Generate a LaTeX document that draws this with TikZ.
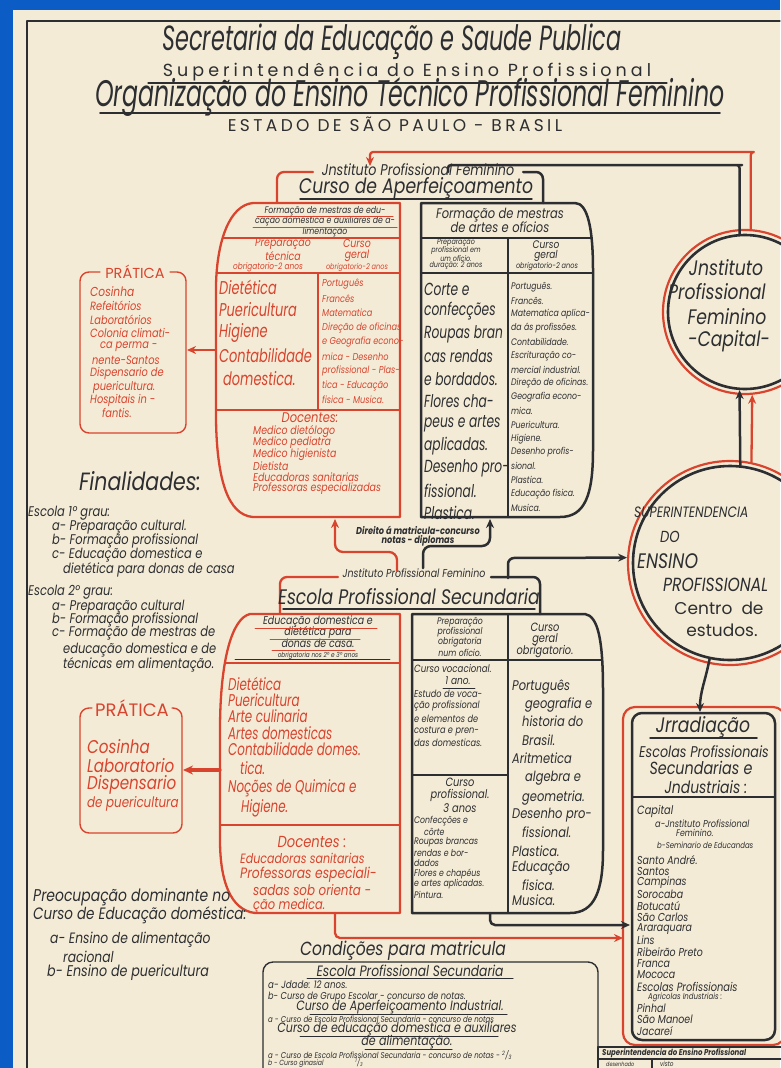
\documentclass[tikz,border=0pt]{standalone}
\usepackage{fontspec}
\setmainfont{Poppins}[FakeStretch=0.82]
\newfontfamily\tallf{Poppins}[FakeStretch=0.64]
\newfontfamily\midf{Poppins}[FakeStretch=0.70]
\newfontfamily\widef{Poppins}
\newfontfamily\spacef{Poppins}[LetterSpace=20]
\newfontfamily\spaceg{Poppins}[LetterSpace=23]
\usetikzlibrary{arrows.meta}
\definecolor{paper}{HTML}{F4EBD6}
\definecolor{rd}{HTML}{D8442E}
\definecolor{dk}{HTML}{2C2E31}
\definecolor{bl}{HTML}{0B5DC5}
\newcommand\fsz[1]{\fontsize{#1}{#1}\selectfont\itshape}
\newcommand\stack[6]{\foreach \s [count=\i from 0] in {#6}{\node[#4] (#5\i) at (#1,{#2+\i*(#3)}) {\s};}}
\begin{document}
\begin{tikzpicture}[x=1pt,y=-1pt,line join=round,line cap=round,
  every node/.append style={text=dk},
  lbl/.style={inner sep=0pt,anchor=west},
  ctr/.style={inner sep=0pt,anchor=center},
  rline/.style={draw=rd,line width=2.3pt},
  dline/.style={draw=dk,line width=2.5pt},
  rthin/.style={draw=rd,line width=1.4pt},
  dthin/.style={draw=dk,line width=1.4pt},
  rarr/.style={rline,-{Stealth[length=9pt,width=8pt]}},
  darr/.style={dline,-{Stealth[length=9pt,width=8pt]}}]
\fill[bl] (0,0) rectangle (780,1068);
\fill[paper] (13,10) rectangle (780,1068);
\useasboundingbox (0,0) rectangle (780,1068);
\draw[dk,line width=1.2pt] (27,1068) -- (27,21) -- (780,21);

% ---------- header ----------
\node[ctr,font=\tallf\fsz{35}] (h1) at (392,42) {Secretaria da Educação e Saude Publica};
\node[ctr,font=\spaceg\fontsize{17.5}{17.5}\selectfont] (h2) at (407,72) {Superintendência do Ensino Profissional};
\draw[dk,line width=1.3pt] (148,83) -- (667,83);
\node[ctr,font=\tallf\fsz{37}] (h3) at (410,97) {Organização do Ensino Técnico Profissional Feminino};
\draw[dk,line width=1.6pt] (100,113) -- (720,113);
\node[ctr,font=\spacef\fontsize{17}{17}\selectfont] (h4) at (395,124) {ESTADO DE SÃO PAULO - BRASIL};

% ---------- circles ----------
\node[circle,draw=rd,line width=2.2pt,minimum size=164pt,inner sep=0pt] (ipfO) at (745,312) {};
\node[circle,draw=dk,line width=2.6pt,minimum size=154pt,inner sep=0pt] (ipfI) at (745,312) {};
\node[circle,draw=rd,line width=2.2pt,minimum size=204pt,inner sep=0pt] (supO) at (730,563) {};
\node[circle,draw=dk,line width=2.6pt,minimum size=194pt,inner sep=0pt] (supI) at (730,563) {};
\node[ctr,font=\fsz{21}] (c1) at (726,268) {Jnstituto};
\node[lbl,font=\fsz{21}] (c2) at (668,292) {Profissional};
\node[ctr,font=\fsz{21}] (c3) at (727,317) {Feminino};
\node[ctr,font=\fsz{21}] (c4) at (729,341) {-Capital-};
\node[lbl,font=\fsz{15}] (s1) at (634,512) {SUPERINTENDENCIA};
\node[lbl,font=\fsz{16}] (s2) at (660,537) {DO};
\node[lbl,font=\fsz{21}] (s3) at (637,561) {ENSINO};
\node[lbl,font=\fsz{19}] (s4) at (663,585) {PROFISSIONAL};
\node[ctr,font=\widef\fontsize{17}{17}\selectfont] (s5) at (719,608) {Centro~~de};
\node[ctr,font=\widef\fontsize{17}{17}\selectfont] (s6) at (722,630) {estudos.};

% ---------- Curso de Aperfeicoamento ----------
\draw[rline,rounded corners=7pt] (277,203) -- (277,172) -- (313,172);
\draw[dline,rounded corners=7pt] (523,172) -- (543,172) -- (543,203);
\node[ctr,font=\fsz{15.5}] (capA1) at (418,170) {Jnstituto Profissional Feminino};
\node[ctr,font=\fsz{21}] (capA2) at (416,188) {Curso de Aperfeiçoamento};
\draw[dk,line width=1.4pt] (300,199) -- (532,199);
\draw[rline] (400,203) -- (253,203) .. controls (230,205) and (217,240) .. (216,285) -- (216,420) .. controls (217,480) and (228,515) .. (253,517) -- (400,517) -- cycle;
\begin{scope}
\clip (400,203) -- (253,203) .. controls (230,205) and (217,240) .. (216,285) -- (216,420) .. controls (217,480) and (228,515) .. (253,517) -- (400,517) -- cycle;
\draw[rthin] (200,238) -- (410,238) (200,273) -- (410,273) (318,273) -- (318,410) (200,410) -- (410,410);
\end{scope}
\draw[dline] (421,203) -- (575,203) .. controls (588,203) and (593,230) .. (593,270) -- (593,450) .. controls (593,495) and (585,517) .. (560,517) -- (421,517) -- cycle;
\begin{scope}
\clip (421,203) -- (575,203) .. controls (588,203) and (593,230) .. (593,270) -- (593,450) .. controls (593,495) and (585,517) .. (560,517) -- (421,517) -- cycle;
\draw[dthin] (415,238) -- (600,238) (415,273) -- (600,273) (508,238) -- (508,520);
\end{scope}
% red half texts
\stack{325}{211}{10.5}{ctr,font=\fsz{9.5}}{hA}{Formação de mestras de edu-, cação doméstica e auxiliares de a-, limentação}
\draw[rd,line width=1pt] (257,216.5) -- (393,216.5) (253,227) -- (397,227);
\stack{283}{244}{12}{ctr,text=rd,font=\fsz{11.5}}{pA}{Preparação, técnica}
\node[ctr,text=rd,font=\fsz{9}] (pA2) at (268,267) {obrigatorio-2 anos};
\stack{357}{243}{13}{ctr,text=rd,font=\fsz{11.5}}{cA}{Curso, geral}
\node[ctr,text=rd,font=\fsz{8}] (cA2) at (357,267.5) {obrigatorio-2 anos};
\stack{219}{287}{23}{lbl,text=rd,font=\midf\fsz{18.5}}{bA}{Dietética, Puericultura, Higiene, Contabilidade, \hspace{4pt}domestica.}
\stack{322}{284}{14.5}{lbl,text=rd,font=\fsz{10}}{sA}{Português, Francês, Matematica, Direção de oficinas, e Geografia econo-, mica - Desenho, profissional - Plas-, tica - Educação, fisica - Musica.}
\node[ctr,text=rd,font=\fsz{14}] (docA) at (310,418) {Docentes:};
\stack{253}{431}{11.6}{lbl,text=rd,font=\fsz{11.5}}{dA}{Medico dietólogo, Medico pediatra, Medico higienista, Dietista, Educadoras sanitarias, Professoras especializadas}
% dark half texts
\stack{500}{215}{12}{ctr,font=\fsz{14}}{hB}{Formação de mestras, de artes e ofícios}
\stack{456}{243}{7.6}{ctr,font=\fsz{7.8}}{pB}{Preparação, profissional em, um ofício., duração: 2 anos}
\stack{546}{245}{11}{ctr,font=\fsz{11}}{cB}{Curso, geral}
\node[ctr,font=\fsz{8}] (cB2) at (547,267) {obrigatorio-2 anos};
\stack{424}{289}{22.4}{lbl,font=\midf\fsz{17.5}}{bB}{Corte e, confecções, Roupas bran, cas rendas, e bordados., Flores cha-, peus e artes, aplicadas., Desenho pro-, fissional., Plastica.}
\stack{511}{287}{13.8}{lbl,font=\fsz{9.5}}{sB}{Português., Francês., Matematica aplica-, da ás profissões., Contabilidade., Escrituração co-, mercial industrial., Direção de oficinas., Geografia econo-, mica., Puericultura., Higiene., Desenho profis-, sional., Plastica., Educação fisica., Musica.}

% ---------- Direito ----------
\stack{418}{530}{11}{ctr,font=\fsz{10}\bfseries}{dir}{Direito á matricula-concurso, notas - diplomas}

% ---------- Escola Profissional Secundaria ----------
\draw[rline,rounded corners=7pt] (280,614) -- (280,577) -- (338,577);
\draw[dline,rounded corners=7pt] (491,577) -- (540,577) -- (540,614);
\node[ctr,font=\fsz{11.5}] (capE1) at (414,573) {Jnstituto Profissional Feminino};
\node[ctr,font=\fsz{21}] (capE2) at (409,597) {Escola Profissional Secundaria};
\draw[dk,line width=1.4pt] (283,609) -- (535,609);
\draw[rline] (400,614) -- (250,614) .. controls (232,618) and (220,660) .. (220,730) -- (220,840) .. controls (220,880) and (230,910) .. (255,913) -- (400,913) -- cycle;
\begin{scope}
\clip (400,614) -- (250,614) .. controls (232,618) and (220,660) .. (220,730) -- (220,840) .. controls (220,880) and (230,910) .. (255,913) -- (400,913) -- cycle;
\draw[rthin] (200,663) -- (410,663) (200,825) -- (410,825);
\end{scope}
\draw[dline] (412,614) -- (585,614) .. controls (598,616) and (603,640) .. (603,690) -- (603,850) .. controls (603,890) and (595,913) .. (570,913) -- (412,913) -- cycle;
\begin{scope}
\clip (412,614) -- (585,614) .. controls (598,616) and (603,640) .. (603,690) -- (603,850) .. controls (603,890) and (595,913) .. (570,913) -- (412,913) -- cycle;
\draw[dthin] (405,660) -- (610,660) (508,610) -- (508,920) (405,775) -- (508,775);
\end{scope}
% red half
\stack{318}{622}{10.8}{ctr,font=\fsz{11.5}}{hE}{Educação domestica e, dietética para, donas de casa.}
\node[ctr,font=\fsz{7}] (hE3) at (318,656) {obrigatoria nos 2º e 3º anos};
\draw[rd,line width=1pt] (255,628) -- (377,628) (270,639) -- (360,639) (272,650) -- (355,650);
\draw[dk,line width=0.6pt] (235,659.5) -- (390,659.5);
\stack{228}{684}{16.2}{lbl,text=rd,font=\midf\fsz{17}}{bE}{Dietética, Puericultura, Arte culinaria, Artes domesticas, Contabilidade domes.}
\node[lbl,text=rd,font=\midf\fsz{17}] (bE5) at (240,768) {tica.};
\node[lbl,text=rd,font=\midf\fsz{17}] (bE6) at (228,788) {Noções de Quimica e};
\node[lbl,text=rd,font=\midf\fsz{17}] (bE7) at (241,808) {Higiene.};
\node[ctr,text=rd,font=\fsz{16}] (docE) at (312,842) {Docentes :};
\node[lbl,text=rd,font=\fsz{13.5}] (dE0) at (240,858) {Educadoras sanitarias};
\node[lbl,text=rd,font=\fsz{15}] (dE1) at (240,875) {Professoras especiali-};
\node[lbl,text=rd,font=\fsz{14.5}] (dE2) at (253,890) {sadas sob orienta -};
\node[lbl,text=rd,font=\fsz{14}] (dE3) at (253,905.5) {ção medica.};
% dark half
\stack{460}{622}{10.3}{ctr,font=\fsz{9.5}}{pE}{Preparação, profissional, obrigatoria, num ofício.}
\stack{545}{627}{12.5}{ctr,font=\fsz{12}}{cE}{Curso, geral, obrigatorio.}
\node[lbl,font=\fsz{10.5}] (vE0) at (414,669) {Curso vocacional.};
\node[ctr,font=\fsz{11}] (vE1) at (458,681) {1 ano.};
\draw[dk,line width=0.9pt] (443,688) -- (475,688);
\stack{414}{694}{12.3}{lbl,font=\fsz{10}}{eE}{Estudo de voca-, ção profissional, e elementos de, costura e pren-, das domesticas.}
\stack{460}{782}{13}{ctr,font=\fsz{12}}{qE}{Curso, profissional., 3 anos}
\stack{414}{821}{10.6}{lbl,font=\fsz{9.5}}{rE}{Confecções e, \hspace{10pt}côrte, Roupas brancas, rendas e bor-, dados, Flores e chapéus, e artes aplicadas., Pintura.}
\foreach \xx/\yy/\tx [count=\i] in {512/687/Português, 525/705/geografia e, 522/721/historia do, 522/740/Brasil., 512/758/Aritmetica, 525/778/algebra e, 522/798/geometria., 512/815/Desenho pro-, 522/832/fissional., 512/851/Plastica., 512/868/Educação, 522/885/fisica., 512/900/Musica.}
  {\node[lbl,font=\fsz{14}] (gE\i) at (\xx,\yy) {\tx};}

% ---------- Pratica boxes ----------
\draw[rthin,rounded corners=9pt] (100,272) -- (80,272) -- (80,433) -- (186,433) -- (186,272) -- (170,272);
\node[ctr,text=rd,font=\widef\fontsize{14.5}{14.5}\selectfont] (pr1) at (135,272) {PRÁTICA};
\node[lbl,text=rd,font=\fsz{13}] (q0) at (90,292) {Cosinha};
\foreach \xx/\yy/\tx [count=\i] in {90/306/Refeitórios, 90/320/Laboratórios, 90/333/Colonia climati-, 100/347/ca perma -, 92/360/nente-Santos, 90/373/Dispensario de, 93/387/puericultura., 90/400/Hospitais in -, 102/413/fantis.}
  {\node[lbl,text=rd,font=\fsz{12}] (q\i) at (\xx,\yy) {\tx};}
\draw[rthin,rounded corners=9pt] (92,708) -- (80,708) -- (80,833) -- (182,833) -- (182,708) -- (172,708);
\node[ctr,text=rd,font=\widef\fontsize{18}{18}\selectfont] (pr2) at (132,708) {PRÁTICA};
\stack{87}{747}{19}{lbl,text=rd,font=\fsz{18.5}}{u}{Cosinha, Laboratorio, Dispensario}
\node[lbl,text=rd,font=\fsz{14.5}] (u3) at (87,804) {de puericultura};

% ---------- Finalidades ----------
\node[ctr,font=\fsz{25}] (fin) at (140,481) {Finalidades:};
\node[lbl,font=\fsz{14}] (g1) at (28,513) {Escola 1º grau:};
\foreach \xx/\yy/\tx [count=\i] in {52/527/a- Preparação cultural., 52/541/b- Formação profissional, 52/555/c- Educação domestica e, 63/570/dietética para donas de casa}
  {\node[lbl,font=\fsz{14}] (ga\i) at (\xx,\yy) {\tx};}
\node[lbl,font=\fsz{14}] (g2) at (28,592) {Escola 2º grau:};
\foreach \xx/\yy/\tx [count=\i] in {52/607/a- Preparação cultural, 52/620/b- Formação profissional, 52/633/c- Formação de mestras de, 63/650/educação domestica e de, 63/665/técnicas em alimentação.}
  {\node[lbl,font=\fsz{14}] (gb\i) at (\xx,\yy) {\tx};}
\node[lbl,font=\fsz{17}] (pc1) at (33,897) {Preocupação dominante no};
\node[lbl,font=\fsz{16.5}] (pc2) at (33,915) {Curso de Educação doméstica:};
\node[lbl,font=\fsz{15}] (pc3) at (50,940) {a- Ensino de alimentação};
\node[lbl,font=\fsz{15}] (pc4) at (63,957) {racional};
\node[lbl,font=\fsz{15.5}] (pc5) at (47,973) {b- Ensino de puericultura};

% ---------- Irradiacao ----------
\node[draw=rd,line width=2.2pt,rounded corners=12pt,inner sep=0pt,minimum width=162pt,minimum height=338pt] (irrO) at (704,876) {};
\node[draw=dk,line width=2.5pt,rounded corners=10pt,inner sep=0pt,minimum width=143pt,minimum height=327pt] (irrI) at (703.5,876.5) {};
\node[ctr,font=\fsz{21}] (ir0) at (703,727) {Jrradiação};
\draw[dk,line width=1.5pt] (650,738) -- (757,738);
\node[ctr,font=\fsz{15.5}] (ir1) at (704,752) {Escolas Profissionais};
\node[ctr,font=\fsz{17.5}] (ir2) at (701,768) {Secundarias e};
\node[ctr,font=\fsz{17}] (ir3) at (706,787) {Jndustriais :};
\draw[dthin] (632,797) -- (775,797);
\node[lbl,font=\fsz{12}] (ir4) at (637,811) {Capital};
\node[lbl,font=\fsz{10}] (ir5) at (655,824) {a-Jnstituto Profissional};
\node[lbl,font=\fsz{9.5}] (ir6) at (676,833) {Feminino.};
\node[lbl,font=\fsz{8.5}] (ir7) at (657,845) {b-Seminario de Educandas};
\stack{637}{860}{11.5}{lbl,font=\fsz{11.5}}{il}{Santo André., Santos, Campinas, Sorocaba, Botucatú, São Carlos, Araraquara, Lins, Ribeirão Preto, Franca, Mococa}
\node[lbl,font=\fsz{12}] (ia0) at (637,987) {Escolas Profissionais};
\node[lbl,font=\fsz{8.5}] (ia1) at (648,997) {Agricolas Industriais :};
\stack{637}{1008}{11.5}{lbl,font=\fsz{11.5}}{im}{Pinhal, São Manoel, Jacareí}

% ---------- Condicoes ----------
\draw[dthin,rounded corners=10pt] (263,1080) -- (263,962) -- (598,962) -- (598,1080);
\node[ctr,font=\fsz{19}] (co0) at (403,951) {Condições para matricula};
\node[ctr,font=\fsz{15}] (co1) at (410,971) {Escola Profissional Secundaria};
\draw[dk,line width=1pt] (307,978) -- (513,978);
\node[lbl,font=\fsz{10.5}] (co2) at (268,985) {a- Jdade: 12 anos.};
\node[lbl,font=\fsz{10}] (co3) at (268,997) {b- Curso de Grupo Escolar - concurso de notas.};
\node[ctr,font=\fsz{13.5}] (co4) at (400,1007) {Curso de Aperfeiçoamento Industrial.};
\draw[dk,line width=1pt] (310,1014) -- (507,1014);
\node[lbl,font=\fsz{8.5}] (co5) at (268,1019) {a - Curso de Escola Profissional Secundaria - concurso de notas};
\node[ctr,font=\fsz{13.5}] (co6) at (397,1029) {Curso de educação domestica e auxiliares};
\draw[dk,line width=1pt] (300,1036) -- (498,1036);
\node[ctr,font=\fsz{13.5}] (co7) at (407,1042) {de alimentação.};
\draw[dk,line width=1pt] (365,1049) -- (452,1049);
\node[lbl,font=\fsz{8.5}] (co8) at (268,1055) {a - Curso de Escola Profissional Secundaria - concurso de notas - \textsuperscript{2}/\textsubscript{3}};
\node[lbl,font=\fsz{7.5}] (co9) at (268,1063) {b - Curso ginasial \hspace{30pt}\textsuperscript{1}/\textsubscript{3}};

% ---------- bottom table ----------
\draw[dthin] (598,1070) -- (598,1047) -- (782,1047) (598,1059) -- (782,1059) (652,1059) -- (652,1070);
\node[lbl,font=\fsz{8.5}\bfseries] (tb0) at (602,1053) {Superintendencia do Ensino Profissional};
\node[lbl,font=\fsz{6}] (tb1) at (606,1064) {desenhado};
\node[lbl,font=\fsz{7}] (tb2) at (660,1064) {visto};

% ---------- connectors ----------
\coordinate (capAtop) at (370,166);
\coordinate (capAdk) at (448,172);
\draw[rarr,rounded corners=3pt] (ipfO.86) |- (751,152) -- (370,152) -- (capAtop);
\draw[dline,rounded corners=3pt] (ipfI.94.5) |- (739,165) -- (448,165) -- (capAdk);
\draw[darr] (supI.84.7) -- (ipfI.-94.5);
\draw[rarr] (supO.78.1) -- (ipfO.-85.8);
\coordinate (Ered) at (397,571);
\coordinate (Edk) at (423,568);
\coordinate (Abr) at (335,519);
\coordinate (Abd) at (490,519);
\draw[rarr,rounded corners=8pt] (Ered) -- (397,552) -- (335,552) -- (Abr);
\draw[darr,rounded corners=8pt] (Edk) -- (423,546) -- (490,546) -- (Abd);
\coordinate (Edr) at (508,578);
\draw[darr,rounded corners=6pt] (Edr) -- (508,558) -- (supO.177.2);
\coordinate (p1r) at (187,350);
\draw[rarr] (216,350) -- (p1r);
\coordinate (p2r) at (183,770);
\draw[rline,line width=3.2pt,-{Stealth[length=10pt,width=9pt]}] (220,770) -- (p2r);
\coordinate (irrR) at (623,938);
\coordinate (irrD) at (630,925);
\draw[rarr,rounded corners=5pt] (335,913) -- (335,938) -- (irrR);
\draw[darr,rounded corners=5pt] (490,913) -- (490,925) -- (irrD);
\coordinate (irrTop) at (700,712);
\draw[darr] (supI.-102) .. controls (705,682) and (700,692) .. (irrTop);
\end{tikzpicture}
\end{document}
